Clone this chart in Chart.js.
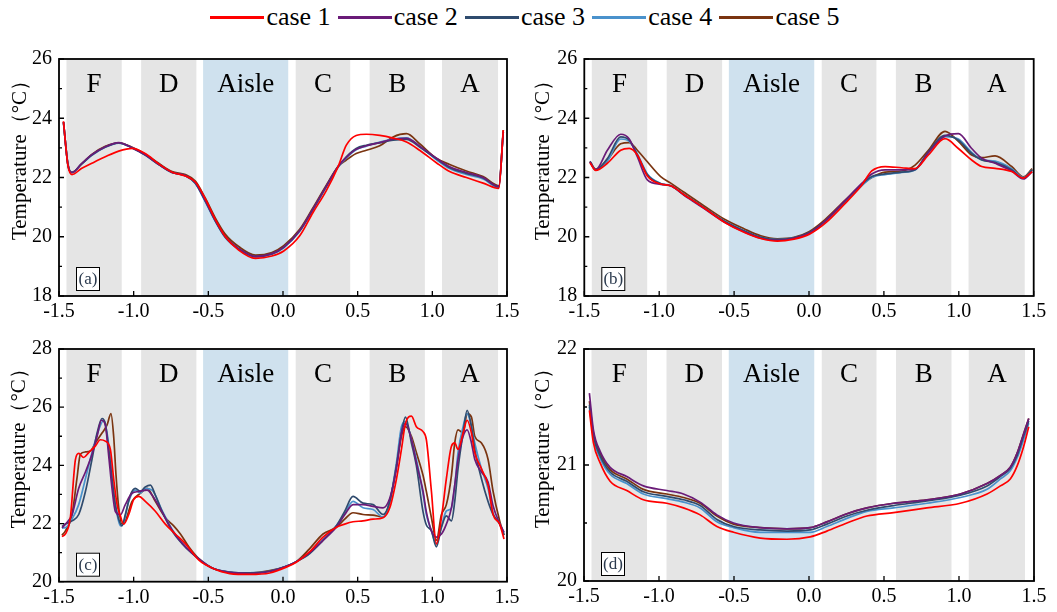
<!DOCTYPE html>
<html><head><meta charset="utf-8">
<script src="https://cdn.jsdelivr.net/npm/chart.js@4/dist/chart.umd.min.js"></script>
<style>
html,body{margin:0;padding:0;background:#fff;width:1057px;height:612px;overflow:hidden;position:relative}
canvas{position:absolute}
#legend{position:absolute;left:0;top:2px;width:1057px;display:flex;justify-content:center;align-items:center;font-family:'Liberation Serif';font-size:26px;color:#000;height:30px}
#legend .it{display:flex;align-items:center;margin-right:7px}
#legend .ln{display:inline-block;width:54px;height:3px;margin-right:2px}
</style></head><body>
<div id="legend"></div>
<canvas id="ca" width="527" height="290" style="left:0;top:40px"></canvas>
<canvas id="cb" width="530" height="290" style="left:527px;top:40px"></canvas>
<canvas id="cc" width="527" height="282" style="left:0;top:330px"></canvas>
<canvas id="cd" width="530" height="282" style="left:527px;top:330px"></canvas>
<script>
// ---------- data ----------
const seriesNames = ['case 1','case 2','case 3','case 4','case 5'];
const seriesColors = ['#ff0000','#6a1b78','#2f4b6e','#4a92cc','#7a3410'];
const zoneLabels = ['F','D','Aisle','C','B','A'];
const zoneStart = [-1.45,-0.95,-0.535,0.085,0.58,1.065];
const zoneEnd   = [-1.08,-0.58,0.035,0.45,0.95,1.44];
const xTickValues = [-1.5,-1.0,-0.5,0.0,0.5,1.0,1.5];
const yTicksAB = [18,20,22,24,26];
const yMinorAB = [19,21,23,25];
const yTicksC = [20,22,24,26,28];
const yMinorC = [21,23,25,27];
const yTicksD = [20,21,22];
const yMinorD = [20.5,21.5];

// panel (a)
const xA = [-1.47,-1.44,-1.413,-1.35,-1.28,-1.19,-1.1,-1.01,-0.92,-0.83,-0.743,-0.654,-0.587,-0.52,-0.453,-0.386,-0.297,-0.185,-0.074,0.005,0.112,0.2,0.29,0.369,0.424,0.49,0.558,0.648,0.737,0.827,0.915,1.027,1.116,1.228,1.34,1.445,1.475];
const a1 = [23.9,22.4,22.1,22.3,22.48,22.7,22.89,22.98,22.8,22.45,22.18,22.05,21.85,21.28,20.58,20.0,19.55,19.27,19.35,19.52,20.03,20.81,21.56,22.37,23.09,23.42,23.46,23.42,23.33,23.2,22.92,22.5,22.2,22.0,21.81,21.63,23.6];
const a2 = [23.87,22.43,22.17,22.46,22.77,23.04,23.18,23.0,22.76,22.44,22.17,22.07,21.83,21.22,20.55,20.0,19.6,19.34,19.43,19.65,20.21,20.93,21.71,22.37,22.68,22.95,23.07,23.18,23.29,23.32,23.06,22.65,22.36,22.17,22.0,21.7,23.55];
const a3 = [23.87,22.43,22.17,22.45,22.76,23.03,23.17,23.0,22.75,22.43,22.17,22.06,21.81,21.2,20.53,19.98,19.59,19.33,19.42,19.64,20.2,20.92,21.7,22.37,22.7,22.98,23.09,23.17,23.26,23.29,23.03,22.63,22.33,22.14,21.98,21.68,23.55];
const a4 = [23.87,22.43,22.17,22.45,22.75,23.02,23.16,23.0,22.75,22.43,22.17,22.06,21.8,21.18,20.52,19.97,19.58,19.32,19.41,19.63,20.19,20.9,21.68,22.35,22.66,22.94,23.06,23.2,23.3,23.34,23.05,22.6,22.3,22.1,21.95,21.66,23.55];
const a5 = [23.87,22.43,22.17,22.45,22.78,23.05,23.17,23.02,22.78,22.47,22.2,22.1,21.88,21.3,20.63,20.08,19.67,19.38,19.47,19.7,20.25,20.97,21.74,22.37,22.59,22.81,22.92,23.07,23.37,23.48,23.14,22.65,22.44,22.22,22.03,21.72,23.6];

// panel (b)
const xB = [-1.462,-1.424,-1.346,-1.257,-1.2,-1.146,-1.079,-0.99,-0.923,-0.834,-0.7,-0.567,-0.434,-0.322,-0.211,-0.1,0.0,0.107,0.24,0.352,0.419,0.508,0.619,0.708,0.797,0.908,0.997,1.086,1.153,1.242,1.353,1.431,1.49];
const b1 = [22.5,22.24,22.48,22.92,22.98,22.76,22.05,21.78,21.72,21.42,20.97,20.5,20.15,19.94,19.85,19.92,20.08,20.45,21.12,21.74,22.22,22.37,22.33,22.3,22.76,23.31,22.98,22.59,22.37,22.31,22.2,21.98,22.2];
const b2 = [22.53,22.26,22.92,23.46,23.3,22.7,21.92,21.77,21.72,21.4,20.95,20.5,20.17,19.95,19.88,19.95,20.12,20.53,21.22,21.8,22.12,22.26,22.26,22.28,22.85,23.4,23.48,22.98,22.65,22.48,22.22,21.95,22.2];
const b3 = [22.53,22.26,22.64,23.37,23.26,22.76,22.09,21.79,21.72,21.42,20.98,20.53,20.2,19.98,19.9,19.96,20.14,20.53,21.2,21.76,22.03,22.12,22.18,22.26,22.87,23.42,23.26,22.81,22.59,22.51,22.26,21.98,22.26];
const b4 = [22.53,22.26,22.55,23.3,23.22,22.8,22.12,21.8,21.72,21.43,20.98,20.53,20.2,19.98,19.9,19.96,20.12,20.5,21.17,21.72,22.0,22.1,22.17,22.25,22.82,23.38,23.3,22.85,22.6,22.55,22.3,22.0,22.26];
const b5 = [22.55,22.28,22.6,23.14,23.18,22.92,22.53,22.03,21.81,21.5,21.04,20.6,20.27,20.03,19.93,19.98,20.17,20.58,21.23,21.76,22.0,22.18,22.22,22.42,22.92,23.56,23.22,22.76,22.67,22.73,22.37,22.02,22.3];

// panel (c)
const xC1 = [-1.48,-1.457,-1.424,-1.39,-1.368,-1.335,-1.301,-1.257,-1.223,-1.19,-1.156,-1.134,-1.111,-1.089,-1.067,-1.033,-1.0,-0.966,-0.922,-0.855,-0.788,-0.721,-0.654,-0.565,-0.475,-0.357,-0.223,-0.089,0.022,0.089,0.179,0.268,0.357,0.413,0.469,0.536,0.603,0.67,0.715,0.76,0.793,0.82,0.86,0.893,0.938,0.96,0.994,1.027,1.061,1.094,1.128,1.15,1.172,1.206,1.233,1.262,1.284,1.329,1.373,1.407,1.451,1.48];
const c1  = [21.55,21.64,22.2,24.2,24.41,24.27,24.44,24.66,24.88,24.83,24.55,23.54,22.65,22.26,21.98,22.31,22.82,22.93,22.76,22.42,21.98,21.64,21.31,20.75,20.47,20.28,20.25,20.3,20.5,20.67,21.03,21.53,21.87,21.98,22.06,22.09,22.15,22.2,22.54,23.54,24.55,25.44,25.69,25.33,25.16,24.88,23.1,21.3,22.2,23.54,24.66,24.77,24.55,25.11,25.55,25.11,24.44,23.88,23.32,22.31,21.98,21.47];
const xC2 = [-1.48,-1.457,-1.413,-1.368,-1.323,-1.279,-1.245,-1.216,-1.19,-1.167,-1.145,-1.123,-1.089,-1.056,-1.011,-0.966,-0.91,-0.877,-0.81,-0.743,-0.676,-0.609,-0.542,-0.475,-0.357,-0.223,-0.089,0.022,0.089,0.179,0.268,0.357,0.413,0.469,0.536,0.603,0.67,0.715,0.76,0.793,0.82,0.86,0.893,0.938,0.96,0.994,1.027,1.061,1.094,1.128,1.15,1.172,1.206,1.233,1.262,1.284,1.329,1.373,1.407,1.451,1.48];
const c2  = [21.85,21.98,22.3,23.21,23.77,24.38,25.0,25.55,25.39,24.32,23.21,22.42,22.3,22.65,23.04,23.1,23.15,22.98,22.4,21.78,21.33,20.98,20.7,20.47,20.32,20.28,20.35,20.53,20.69,21.0,21.42,21.87,22.3,22.65,22.65,22.59,22.54,22.87,23.9,25.1,25.44,24.9,24.1,23.1,22.4,21.75,21.53,21.64,21.98,22.54,23.32,24.21,25.0,25.22,24.77,24.21,23.77,23.43,22.6,22.0,21.7];
const xC3 = [-1.48,-1.457,-1.413,-1.368,-1.323,-1.279,-1.245,-1.212,-1.19,-1.167,-1.145,-1.123,-1.1,-1.078,-1.056,-1.022,-0.989,-0.955,-0.922,-0.888,-0.855,-0.81,-0.743,-0.676,-0.609,-0.542,-0.475,-0.357,-0.223,-0.089,0.022,0.089,0.179,0.268,0.357,0.413,0.469,0.536,0.603,0.67,0.715,0.76,0.793,0.82,0.86,0.893,0.938,0.96,0.994,1.027,1.061,1.094,1.128,1.15,1.172,1.206,1.233,1.262,1.284,1.329,1.373,1.407,1.451,1.48];
const c3  = [21.9,21.98,22.09,22.31,23.1,24.21,25.11,25.61,25.44,24.55,23.54,22.65,22.15,21.92,22.31,22.98,23.21,23.1,23.26,23.32,22.98,22.42,21.75,21.31,20.97,20.69,20.47,20.32,20.3,20.36,20.53,20.69,20.97,21.42,21.92,22.42,22.93,22.7,22.65,22.31,22.76,23.99,25.11,25.66,24.77,23.99,22.4,21.95,21.75,21.2,21.87,22.26,22.09,22.76,23.88,25.11,25.89,25.33,24.55,23.54,22.76,22.31,21.98,21.6];
const xC4 = [-1.48,-1.457,-1.413,-1.368,-1.323,-1.279,-1.234,-1.2,-1.178,-1.156,-1.134,-1.111,-1.089,-1.067,-1.033,-0.989,-0.955,-0.922,-0.877,-0.81,-0.743,-0.676,-0.609,-0.542,-0.475,-0.357,-0.223,-0.089,0.022,0.089,0.179,0.268,0.357,0.413,0.469,0.536,0.603,0.67,0.715,0.76,0.793,0.82,0.86,0.893,0.938,0.96,0.994,1.027,1.061,1.094,1.128,1.15,1.172,1.206,1.233,1.262,1.284,1.329,1.373,1.407,1.451,1.48];
const c4  = [21.85,21.86,22.15,22.65,23.54,24.44,25.22,25.55,25.11,24.21,23.1,22.31,21.92,22.03,22.76,23.15,23.04,23.21,23.15,22.45,21.8,21.33,20.98,20.7,20.47,20.33,20.3,20.36,20.53,20.69,21.0,21.45,21.92,22.35,22.76,22.54,22.48,22.22,22.76,24.1,25.33,25.5,24.9,24.21,23.0,22.3,21.75,21.3,21.9,22.43,22.54,23.3,24.44,25.33,25.78,25.33,24.77,23.88,23.2,22.35,22.0,21.65];
const xC5 = [-1.48,-1.457,-1.413,-1.38,-1.357,-1.323,-1.29,-1.257,-1.212,-1.178,-1.152,-1.134,-1.118,-1.1,-1.078,-1.056,-1.011,-0.955,-0.91,-0.855,-0.788,-0.732,-0.687,-0.631,-0.565,-0.475,-0.357,-0.223,-0.089,0.022,0.089,0.179,0.268,0.357,0.413,0.469,0.536,0.603,0.67,0.715,0.76,0.793,0.82,0.86,0.893,0.938,0.96,0.994,1.027,1.061,1.094,1.128,1.15,1.172,1.206,1.233,1.262,1.284,1.329,1.373,1.407,1.451,1.48];
const c5  = [21.6,21.75,22.3,23.54,24.38,24.46,24.49,24.77,25.11,25.39,25.78,25.0,23.65,22.54,21.98,22.09,22.76,23.04,23.21,22.76,22.2,21.92,21.64,21.2,20.8,20.47,20.33,20.3,20.38,20.53,20.69,21.14,21.64,21.87,22.15,22.37,22.31,22.29,22.22,22.76,23.99,25.0,25.33,25.0,24.44,23.65,23.1,22.2,21.42,22.31,22.65,23.65,24.77,25.22,25.11,25.78,25.66,25.0,24.77,24.21,23.1,22.09,21.6];

// panel (d)
const xD = [-1.464,-1.437,-1.393,-1.326,-1.215,-1.104,-0.948,-0.837,-0.726,-0.614,-0.503,-0.325,-0.147,0.008,0.119,0.253,0.386,0.564,0.786,1.009,1.187,1.276,1.342,1.387,1.431,1.465];
const d1 = [21.47,21.19,21.02,20.86,20.78,20.7,20.67,20.63,20.57,20.47,20.42,20.37,20.36,20.38,20.43,20.5,20.56,20.59,20.63,20.67,20.75,20.82,20.88,20.99,21.16,21.33];
const d2 = [21.62,21.3,21.12,20.98,20.9,20.82,20.78,20.75,20.68,20.57,20.5,20.46,20.45,20.46,20.51,20.58,20.63,20.67,20.7,20.75,20.84,20.91,20.98,21.1,21.27,21.4];
const d3 = [21.52,21.25,21.08,20.94,20.86,20.77,20.73,20.7,20.65,20.53,20.47,20.44,20.43,20.44,20.49,20.56,20.61,20.65,20.69,20.74,20.82,20.9,20.97,21.08,21.25,21.38];
const d4 = [21.5,21.23,21.06,20.92,20.84,20.75,20.71,20.68,20.63,20.51,20.46,20.42,20.42,20.42,20.47,20.54,20.6,20.63,20.67,20.72,20.79,20.88,20.95,21.06,21.22,21.36];
const d5 = [21.55,21.27,21.1,20.96,20.88,20.79,20.75,20.72,20.67,20.56,20.49,20.46,20.45,20.46,20.51,20.58,20.63,20.67,20.7,20.75,20.84,20.91,20.98,21.1,21.27,21.4];

// ---------- legend ----------
const leg = document.getElementById('legend');
seriesNames.forEach((n,i)=>{
  const it = document.createElement('div'); it.className='it';
  const ln = document.createElement('span'); ln.className='ln'; ln.style.background=seriesColors[i];
  const tx = document.createElement('span'); tx.textContent=n;
  it.appendChild(ln); it.appendChild(tx); leg.appendChild(it);
});

const SERIF = "'Liberation Serif'";

const decoPlugin = {
  id:'deco',
  beforeDatasetsDraw(chart){
    const {ctx, chartArea:a, scales:{x}} = chart;
    ctx.save();
    zoneStart.forEach((s,i)=>{
      const x0 = x.getPixelForValue(s), x1 = x.getPixelForValue(zoneEnd[i]);
      ctx.fillStyle = zoneLabels[i]==='Aisle' ? '#cfe1ee' : '#e5e5e5';
      ctx.fillRect(x0, a.top, x1-x0, a.bottom-a.top);
    });
    ctx.fillStyle = '#000';
    ctx.font = '27px ' + SERIF;
    ctx.textAlign = 'center'; ctx.textBaseline = 'alphabetic';
    zoneStart.forEach((s,i)=>{
      const xc = x.getPixelForValue((s+zoneEnd[i])/2);
      ctx.fillText(zoneLabels[i], xc, a.top + 33);
    });
    ctx.restore();
  },
  afterDraw(chart, args, opts){
    const {ctx, chartArea:a, scales:{x,y}} = chart;
    ctx.save();
    ctx.strokeStyle = '#000'; ctx.lineWidth = 1.8;
    ctx.strokeRect(a.left, a.top, a.right-a.left, a.bottom-a.top);
    ctx.lineWidth = 1.3;
    ctx.beginPath();
    xTickValues.forEach(v=>{ const px=x.getPixelForValue(v); ctx.moveTo(px,a.bottom); ctx.lineTo(px,a.bottom-5); });
    opts.yMajor.forEach(v=>{ const py=y.getPixelForValue(v); ctx.moveTo(a.left,py); ctx.lineTo(a.left+5,py); });
    opts.yMinor.forEach(v=>{ const py=y.getPixelForValue(v); ctx.moveTo(a.left,py); ctx.lineTo(a.left+3,py); });
    ctx.stroke();
    // panel tag
    const bx = a.left + 17, by = a.bottom - 29;
    ctx.fillStyle = '#fff'; ctx.fillRect(bx, by, 24, 24);
    ctx.lineWidth = 1; ctx.strokeStyle = '#000'; ctx.strokeRect(bx+0.5, by+0.5, 23, 23);
    ctx.fillStyle = '#2b3a4e'; ctx.font = '17px ' + SERIF;
    ctx.textAlign='center'; ctx.textBaseline='middle';
    ctx.fillText(opts.tag, bx+12, by+12.5);
    // y title
    ctx.fillStyle = '#000'; ctx.font = '21px ' + SERIF;
    ctx.translate(a.left - opts.titleOff, a.top + (a.bottom-a.top)*0.405);
    ctx.rotate(-Math.PI/2);
    ctx.textAlign='center'; ctx.textBaseline='middle';
    ctx.fillText('Temperature（°C）', 0, 0);
    ctx.restore();
  }
};

function makeChart(id, xs, ys, yMin, yMax, yMajor, yMinor, tag, yW, xH, padTop, padRight, titleOff){
  const datasets = ys.map((arr,i)=>({
    label: seriesNames[i],
    data: arr.map((v,j)=>({x:(Array.isArray(xs[0])?xs[i]:xs)[j], y:v})),
    borderColor: seriesColors[i], backgroundColor: seriesColors[i],
    borderWidth: 1.7, pointRadius: 0, fill:false,
    cubicInterpolationMode:'monotone'
  }));
  return new Chart(document.getElementById(id), {
    type:'line',
    data:{datasets},
    options:{
      responsive:false, animation:false, devicePixelRatio:1,
      layout:{padding:{top:padTop,right:padRight,left:0,bottom:0}},
      plugins:{legend:{display:false}, tooltip:{enabled:false},
        deco:{yMajor, yMinor, tag, titleOff}},
      scales:{
        x:{type:'linear', min:-1.5, max:1.5,
          afterBuildTicks:s=>{s.ticks = xTickValues.map(v=>({value:v}));},
          afterFit:s=>{s.height = xH;},
          grid:{display:false, drawTicks:false}, border:{display:false},
          ticks:{autoSkip:false, maxRotation:0, padding:4, color:'#000',
            font:{family:SERIF, size:20}, callback:v=>Number(v).toFixed(1)}},
        y:{type:'linear', min:yMin, max:yMax,
          afterBuildTicks:s=>{s.ticks = yMajor.map(v=>({value:v}));},
          afterFit:s=>{s.width = yW;},
          grid:{display:false, drawTicks:false}, border:{display:false},
          ticks:{autoSkip:false, padding:7, color:'#000',
            font:{family:SERIF, size:20}, callback:v=>String(v)}}
      }
    },
    plugins:[decoPlugin]
  });
}

makeChart('ca', xA, [a1,a2,a3,a4,a5], 18, 26, yTicksAB, yMinorAB, '(a)', 59, 34, 16, 20, 39);
makeChart('cb', xB, [b1,b2,b3,b4,b5], 18, 26, yTicksAB, yMinorAB, '(b)', 57.3, 34, 16, 23.3, 41);
makeChart('cc', [xC1,xC2,xC3,xC4,xC5], [c1,c2,c3,c4,c5], 20, 28, yTicksC, yMinorC, '(c)', 59, 30.3, 13.3, 20, 40);
makeChart('cd', xD, [d1,d2,d3,d4,d5], 20, 22, yTicksD, yMinorD, '(d)', 57, 31, 13, 23, 41);
</script>
</body></html>
